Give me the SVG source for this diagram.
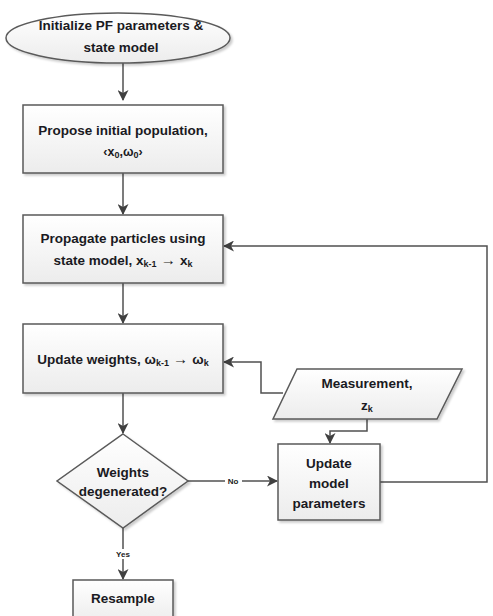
<svg xmlns="http://www.w3.org/2000/svg" width="493" height="616" viewBox="0 0 493 616">
<defs>
<linearGradient id="g" x1="0" y1="0" x2="0" y2="1">
<stop offset="0" stop-color="#ffffff"/>
<stop offset="1" stop-color="#ececec"/>
</linearGradient>
<filter id="sh" x="-10%" y="-10%" width="130%" height="130%">
<feDropShadow dx="2" dy="2" stdDeviation="1.2" flood-color="#000" flood-opacity="0.2"/>
</filter>
<marker id="ah" markerWidth="11" markerHeight="11" refX="10" refY="5.5" orient="auto" markerUnits="userSpaceOnUse">
<path d="M0,0 L11,5.5 L0,11 L3,5.5 Z" fill="#404040"/>
</marker>
</defs>
<style>
.shape{fill:url(#g);stroke:#5a5a5a;stroke-width:1.5;filter:url(#sh)}
.t{font-family:"Liberation Sans",Arial,sans-serif;font-size:13.5px;font-weight:bold;fill:#1a1a22;text-anchor:middle}
.s{font-size:12.5px}
.c{fill:none;stroke:#505050;stroke-width:1.5}
.lbl{font-family:"Liberation Sans",Arial,sans-serif;font-size:8px;font-weight:bold;fill:#222;text-anchor:middle}
</style>
<g id="connectors">
<path class="c" d="M123,63 V100" marker-end="url(#ah)"/>
<path class="c" d="M123,173 V214" marker-end="url(#ah)"/>
<path class="c" d="M123,283 V323" marker-end="url(#ah)"/>
<path class="c" d="M123,393 V433" marker-end="url(#ah)"/>
<path class="c" d="M123,528 V579" marker-end="url(#ah)"/>
<path class="c" d="M188,481 H277" marker-end="url(#ah)"/>
<path class="c" d="M283,393 H261 V362 H224" marker-end="url(#ah)"/>
<path class="c" d="M367,419 V431 H330 V443" marker-end="url(#ah)"/>
<path class="c" d="M380,482 H487 V246 H224" marker-end="url(#ah)"/>
<rect x="225" y="476" width="17" height="10" fill="#fff"/>
<text class="lbl" x="233" y="484">No</text>
<rect x="113" y="549" width="20" height="10" fill="#fff"/>
<text class="lbl" x="123" y="557">Yes</text>
</g>
<g id="init">
<ellipse class="shape" cx="118" cy="38" rx="112" ry="25"/>
<text class="t" x="121" y="30">Initialize PF parameters &amp;</text>
<text class="t" x="121" y="52">state model</text>
</g>
<g id="propose">
<rect class="shape" x="23" y="105" width="200" height="68"/>
<text class="t" x="123" y="135">Propose initial population,</text>
<text class="t s" x="123" y="156">‹x<tspan font-size="9" dy="2">0</tspan><tspan dy="-2">,ω</tspan><tspan font-size="9" dy="2">0</tspan><tspan dy="-2">›</tspan></text>
</g>
<g id="propagate">
<rect class="shape" x="23" y="215" width="200" height="68"/>
<text class="t" x="123" y="243">Propagate particles using</text>
<text class="t" x="123" y="265">state model, x<tspan font-size="9" dy="2">k-1</tspan><tspan dy="-2" font-size="15"> → </tspan>x<tspan font-size="9" dy="2">k</tspan></text>
</g>
<g id="update-weights">
<rect class="shape" x="23" y="324" width="200" height="69"/>
<text class="t" x="123" y="364">Update weights, ω<tspan font-size="9" dy="2">k-1</tspan><tspan dy="-2" font-size="15"> → </tspan>ω<tspan font-size="9" dy="2">k</tspan></text>
</g>
<g id="measurement">
<polygon class="shape" points="297,369 462,369 437,419 273,419"/>
<text class="t" x="367" y="388">Measurement,</text>
<text class="t" x="367" y="410">z<tspan font-size="9" dy="2">k</tspan></text>
</g>
<g id="update-model">
<rect class="shape" x="278" y="444" width="102" height="76"/>
<text class="t" x="329" y="468">Update</text>
<text class="t" x="329" y="488">model</text>
<text class="t" x="329" y="508">parameters</text>
</g>
<g id="decision">
<polygon class="shape" points="123,434 188,481 123,528 57,481"/>
<text class="t" x="123" y="477">Weights</text>
<text class="t" x="123" y="496">degenerated?</text>
</g>
<g id="resample">
<rect class="shape" x="73" y="580" width="100" height="44"/>
<text class="t" x="123" y="603">Resample</text>
</g>
</svg>
